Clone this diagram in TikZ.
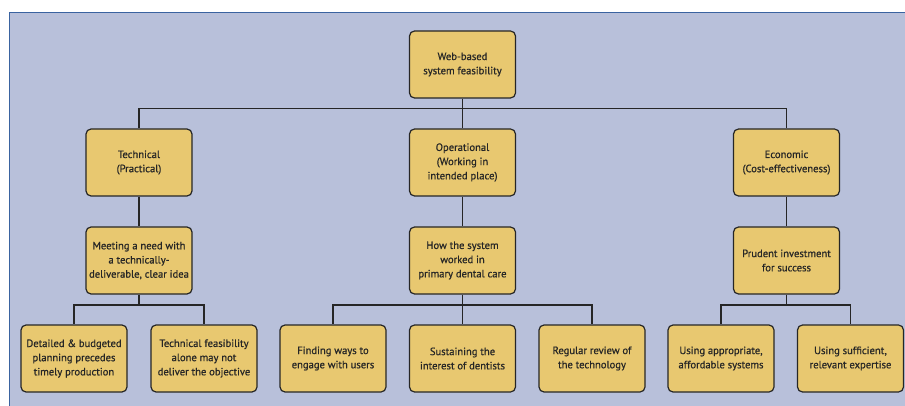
\documentclass[tikz,border=0pt]{standalone}
\usepackage{fontspec}
\setmainfont{PT Sans}
\newfontfamily\boxfont[FakeBold=0.7]{PT Sans}
\definecolor{panel}{HTML}{B8C0DA}
\definecolor{boxfill}{HTML}{E8C870}
\definecolor{edgeblue}{HTML}{3A63A0}
\definecolor{ink}{HTML}{262626}
\begin{document}
\begin{tikzpicture}[x=1pt,y=-1pt,
  box/.style={draw=ink,line width=1.2pt,fill=boxfill,rounded corners=5pt,
    minimum width=106pt,minimum height=67pt,align=center,text=ink,
    font=\boxfont\fontsize{10.6}{14.2}\selectfont,inner sep=2pt},
  link/.style={draw=ink,line width=1.8pt}]
\useasboundingbox (0,0) rectangle (905,406);
\fill[panel] (9,12) rectangle (905,406);
\draw[edgeblue,line width=0.8pt] (9,406) -- (9,12) -- (905,12);
% level 0
\node[box] (root) at (462.5,64.5) {Web-based\\system feasibility};
% level 1
\node[box] (tech) at (139,162.5) {Technical\\(Practical)};
\node[box] (oper) at (462.5,162.5) {Operational\\(Working in\\intended place)};
\node[box] (econ) at (786.5,162.5) {Economic\\(Cost-effectiveness)};
% level 2
\node[box] (meet) at (139,260.5) {Meeting a need with\\a technically-\\deliverable, clear idea};
\node[box] (how) at (462.5,260.5) {How the system\\worked in\\primary dental care};
\node[box] (prud) at (786.5,260.5) {Prudent investment\\for success};
% level 3
\node[box] (det) at (74,358.5) {Detailed \& budgeted\\planning precedes\\timely production};
\node[box] (tf) at (204,358.5) {Technical feasibility\\alone may not\\deliver the objective};
\node[box] (find) at (333,358.5) {Finding ways to\\engage with users};
\node[box] (sus) at (462.5,358.5) {Sustaining the\\interest of dentists};
\node[box] (reg) at (592,358.5) {Regular review of\\the technology};
\node[box] (app) at (721,358.5) {Using appropriate,\\affordable systems};
\node[box] (suf) at (850.5,358.5) {Using sufficient,\\relevant expertise};
% connectors
\draw[link] (root.south) -- ++(0,10) coordinate (b0);
\draw[link] (b0) -| (tech.north);
\draw[link] (b0) -| (econ.north);
\draw[link] (b0) -- (oper.north);
\draw[link] (tech.south) -- (meet.north);
\draw[link] (oper.south) -- (how.north);
\draw[link] (econ.south) -- (prud.north);
\draw[link] (meet.south) -- ++(0,10) coordinate (b1);
\draw[link] (b1) -| (det.north);
\draw[link] (b1) -| (tf.north);
\draw[link] (how.south) -- ++(0,10) coordinate (b2);
\draw[link] (b2) -| (find.north);
\draw[link] (b2) -| (reg.north);
\draw[link] (b2) -- (sus.north);
\draw[link] (prud.south) -- ++(0,10) coordinate (b3);
\draw[link] (b3) -| (app.north);
\draw[link] (b3) -| (suf.north);
\end{tikzpicture}
\end{document}
